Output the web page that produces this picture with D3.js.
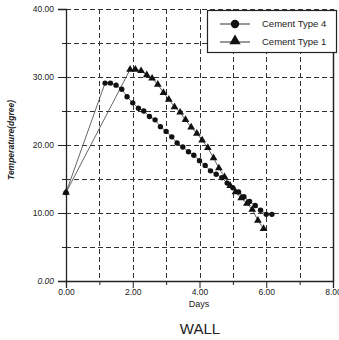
<!DOCTYPE html>
<html>
<head>
<meta charset="utf-8">
<script src="https://cdn.jsdelivr.net/npm/d3@7"></script>
<style>
  body { margin: 0; background: #fff; }
  svg text { font-family: "Liberation Sans", Arial, sans-serif; fill: #222; }
</style>
</head>
<body>
<svg id="chart" width="339" height="340"></svg>
<script>
// Cement Type 4 (circles)
const type4Days = [0, 1.17, 1.33, 1.5, 1.67, 1.83, 2.0, 2.17, 2.33, 2.5, 2.67, 2.83, 3.0, 3.17, 3.33, 3.5,
  3.67, 3.83, 4.0, 4.17, 4.33, 4.5, 4.67, 4.83, 5.0, 5.17, 5.33, 5.5, 5.67, 5.83, 6.0, 6.17];
const type4Temp = [13.0, 29.1, 29.1, 28.8, 28.2, 27.1, 26.2, 25.4, 25.0, 24.2, 23.7, 22.7, 22.0, 21.2, 20.3, 19.7,
  19.0, 18.5, 17.7, 17.0, 16.2, 15.7, 15.2, 14.4, 13.7, 13.1, 12.4, 11.7, 11.1, 10.4, 9.8, 9.8];

// Cement Type 1 (triangles)
const type1Days = [0, 1.92, 2.08, 2.25, 2.42, 2.58, 2.75, 2.92, 3.08, 3.25, 3.42, 3.58, 3.75, 3.92,
  4.08, 4.25, 4.42, 4.58, 4.75, 4.92, 5.08, 5.25, 5.42, 5.58, 5.75, 5.92];
const type1Temp = [13.0, 31.1, 31.1, 30.9, 30.3, 29.8, 28.9, 27.7, 26.7, 25.6, 24.8, 23.7, 22.6, 21.7,
  20.7, 19.6, 18.1, 16.6, 15.3, 14.0, 13.1, 12.2, 11.4, 10.5, 8.9, 7.7];

const seriesNames = ['Cement Type 4', 'Cement Type 1'];
const xTicks = [0, 2, 4, 6, 8];
const xMinor = [1, 3, 5, 7];
const yTicks = [0, 10, 20, 30, 40];
const yMinor = [5, 15, 25, 35];

const plotL = 66, plotR = 333, plotT = 9, plotB = 281;
const svg = d3.select('#chart');

const x = d3.scaleLinear().domain([0, 8]).range([plotL, plotR]);
const y = d3.scaleLinear().domain([0, 40]).range([plotB, plotT]);
const fmt = d3.format('.2f');

// grid
const grid = svg.append('g').attr('stroke', '#333').attr('stroke-width', 1).attr('stroke-dasharray', '5,3');
grid.selectAll('.gv').data([1, 2, 3, 4, 5, 6, 7]).enter().append('line')
  .attr('x1', d => Math.round(x(d)) + 0.5).attr('x2', d => Math.round(x(d)) + 0.5)
  .attr('y1', plotT).attr('y2', plotB);
grid.selectAll('.gh').data([5, 10, 15, 20, 25, 30, 35, 40]).enter().append('line')
  .attr('x1', plotL).attr('x2', plotR)
  .attr('y1', d => Math.round(y(d)) + 0.5).attr('y2', d => Math.round(y(d)) + 0.5);

// right border
svg.append('line').attr('x1', plotR + 0.5).attr('x2', plotR + 0.5).attr('y1', plotT).attr('y2', plotB)
  .attr('stroke', '#222').attr('stroke-width', 1.5);

// y axis
const yAxis = svg.append('g').attr('transform', `translate(${plotL},0)`)
  .call(d3.axisLeft(y).tickValues(yTicks).tickFormat(fmt).tickSize(8).tickPadding(4));
svg.append('g').attr('transform', `translate(${plotL},0)`)
  .call(d3.axisLeft(y).tickValues(yMinor).tickFormat('').tickSize(4))
  .select('.domain').remove();
yAxis.selectAll('text').style('font-size', '8.5px').filter(d => d === 0).style('font-style', 'italic');

// x axis
const xAxis = svg.append('g').attr('transform', `translate(0,${plotB})`)
  .call(d3.axisBottom(x).tickValues(xTicks).tickFormat(fmt).tickSize(7).tickPadding(1));
svg.append('g').attr('transform', `translate(0,${plotB})`)
  .call(d3.axisBottom(x).tickValues(xMinor).tickFormat('').tickSize(4))
  .select('.domain').remove();
xAxis.selectAll('text').style('font-size', '8.5px');
svg.selectAll('.domain').attr('stroke', '#222').attr('stroke-width', 1.3);
svg.selectAll('.tick line').attr('stroke', '#222');

// lines
const line = d3.line().x(d => x(d[0])).y(d => y(d[1]));
const s4 = type4Days.map((d, i) => [d, type4Temp[i]]);
const s1 = type1Days.map((d, i) => [d, type1Temp[i]]);
[s4, s1].forEach(s => {
  svg.append('path').datum(s).attr('d', line)
    .attr('fill', 'none').attr('stroke', '#555').attr('stroke-width', 0.9);
});

// markers
svg.append('g').selectAll('circle').data(s4).enter().append('circle')
  .attr('cx', d => x(d[0])).attr('cy', d => y(d[1])).attr('r', 2.7).attr('fill', '#111');
const tri = d3.symbol().type(d3.symbolTriangle).size(26);
svg.append('g').selectAll('path').data(s1).enter().append('path')
  .attr('d', tri).attr('transform', d => `translate(${x(d[0])},${y(d[1])})`).attr('fill', '#111');

// legend
const lg = svg.append('g');
lg.append('rect').attr('x', 207.5).attr('y', 10.5).attr('width', 129).attr('height', 42)
  .attr('fill', '#fff').attr('stroke', '#222').attr('stroke-width', 1.2);
const ly = [24, 42];
seriesNames.forEach((name, i) => {
  lg.append('line').attr('x1', 220).attr('x2', 250).attr('y1', ly[i]).attr('y2', ly[i])
    .attr('stroke', '#333').attr('stroke-width', 1);
  if (i === 0) {
    lg.append('circle').attr('cx', 235).attr('cy', ly[i]).attr('r', 4.2).attr('fill', '#111');
  } else {
    lg.append('path').attr('d', d3.symbol().type(d3.symbolTriangle).size(55))
      .attr('transform', `translate(235,${ly[i] - 1})`).attr('fill', '#111');
  }
  lg.append('text').attr('x', 262).attr('y', ly[i] + 3).style('font-size', '9.5px').text(name);
});

// titles
svg.append('text').attr('transform', 'translate(14,140) rotate(-90)').attr('text-anchor', 'middle')
  .style('font-size', '8.5px').style('font-style', 'italic').style('font-weight', 'bold')
  .text('Temperature(dgree)');
svg.append('text').attr('x', 199).attr('y', 307).attr('text-anchor', 'middle')
  .style('font-size', '9px').text('Days');
svg.append('text').attr('x', 200).attr('y', 334).attr('text-anchor', 'middle')
  .style('font-size', '15px').text('WALL');
</script>
</body>
</html>
